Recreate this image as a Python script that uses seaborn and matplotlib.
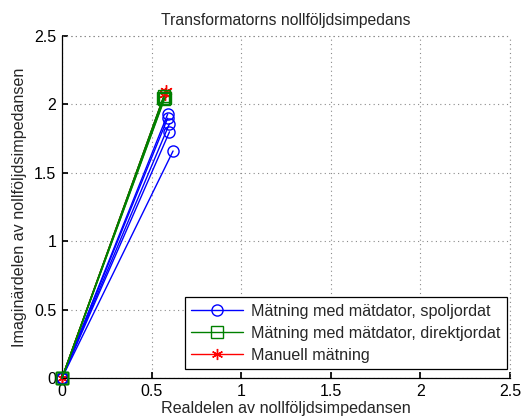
import matplotlib
matplotlib.use("Agg")
import matplotlib.pyplot as plt
import seaborn as sns
import pandas as pd
from matplotlib.lines import Line2D

sns.set_theme(style="white")
plt.rcParams['font.family'] = ['Liberation Sans', 'DejaVu Sans']

# Data: endpoints of impedance vectors (each drawn from origin)
spol_re = [0.59, 0.59, 0.60, 0.60, 0.62]
spol_im = [1.93, 1.90, 1.86, 1.80, 1.66]
direkt_re = [0.565, 0.57, 0.575, 0.57]
direkt_im = [2.05, 2.06, 2.05, 2.04]
manuell_re = [0.575, 0.58]
manuell_im = [2.08, 2.10]

labels = ["Mätning med mätdator, spoljordat",
          "Mätning med mätdator, direktjordat",
          "Manuell mätning"]
colors = ["#0000ff", "#008000", "#ff0000"]
markers = ["o", "s", (6, 2, 0)]

rows = []
for s, (re, im) in enumerate([(spol_re, spol_im), (direkt_re, direkt_im), (manuell_re, manuell_im)]):
    for k, (xr, yi) in enumerate(zip(re, im)):
        rows.append(dict(series=labels[s], unit=f"{s}-{k}", x=0.0, y=0.0))
        rows.append(dict(series=labels[s], unit=f"{s}-{k}", x=xr, y=yi))
df = pd.DataFrame(rows)

fig = plt.figure(figsize=(5.23, 4.20), dpi=100)
ax = fig.add_axes([0.1185, 0.1, 0.8565, 0.814])

zorders = {0: 3, 1: 4, 2: 2}
for s in [2, 0, 1]:
    lab = labels[s]
    sub = df[df.series == lab]
    for u, g in sub.groupby("unit", sort=False):
        sns.lineplot(data=g, x="x", y="y", ax=ax, color=colors[s], sort=False,
                     estimator=None, marker=markers[s], markersize=8 if s < 2 else 9,
                     markerfacecolor="none", markeredgecolor=colors[s],
                     markeredgewidth=1.0, linewidth=1.0, legend=False,
                     zorder=zorders[s], clip_on=False)

ax.set_xlim(0, 2.5)
ax.set_ylim(0, 2.5)
ax.set_xticks([0, 0.5, 1, 1.5, 2, 2.5])
ax.set_yticks([0, 0.5, 1, 1.5, 2, 2.5])
ax.set_xticklabels(["0", "0.5", "1", "1.5", "2", "2.5"])
ax.set_yticklabels(["0", "0.5", "1", "1.5", "2", "2.5"])
ax.tick_params(direction="in", length=4, labelsize=11.5, colors="black", pad=4,
               top=False, right=False, bottom=True, left=True)
ax.grid(True, linestyle=(0, (1, 3)), color="#8a8a8a", linewidth=0.8)
for name, sp in ax.spines.items():
    sp.set_color("black")
    sp.set_linewidth(0.9)
ax.spines["top"].set_visible(False)
ax.spines["right"].set_visible(False)
# dotted frame at top/right like the reference
ax.axhline(2.5, linestyle=(0, (1, 3)), color="#8a8a8a", linewidth=0.8, clip_on=False)
ax.axvline(2.5, linestyle=(0, (1, 3)), color="#8a8a8a", linewidth=0.8, clip_on=False)

ax.set_title("Transformatorns nollföljdsimpedans", fontsize=11.3, pad=8)
ax.set_xlabel("Realdelen av nollföljdsimpedansen", fontsize=11.6, labelpad=2)
ax.set_ylabel("Imaginärdelen av nollföljdsimpedansen", fontsize=11.6, labelpad=5)

handles = [Line2D([0], [0], color=colors[i], marker=markers[i], markerfacecolor="none",
                  markeredgecolor=colors[i], markersize=8, linewidth=1.0)
           for i in range(3)]
leg = ax.legend(handles, labels, loc="lower right", bbox_to_anchor=(0.993, 0.025),
                fontsize=11.6, frameon=True, fancybox=False, framealpha=1,
                edgecolor="black", handlelength=3.2, borderpad=0.4,
                labelspacing=0.45, handletextpad=0.5, borderaxespad=0)
leg.get_frame().set_linewidth(0.9)
leg.set_zorder(10)

fig.savefig("out.png", dpi=100)
